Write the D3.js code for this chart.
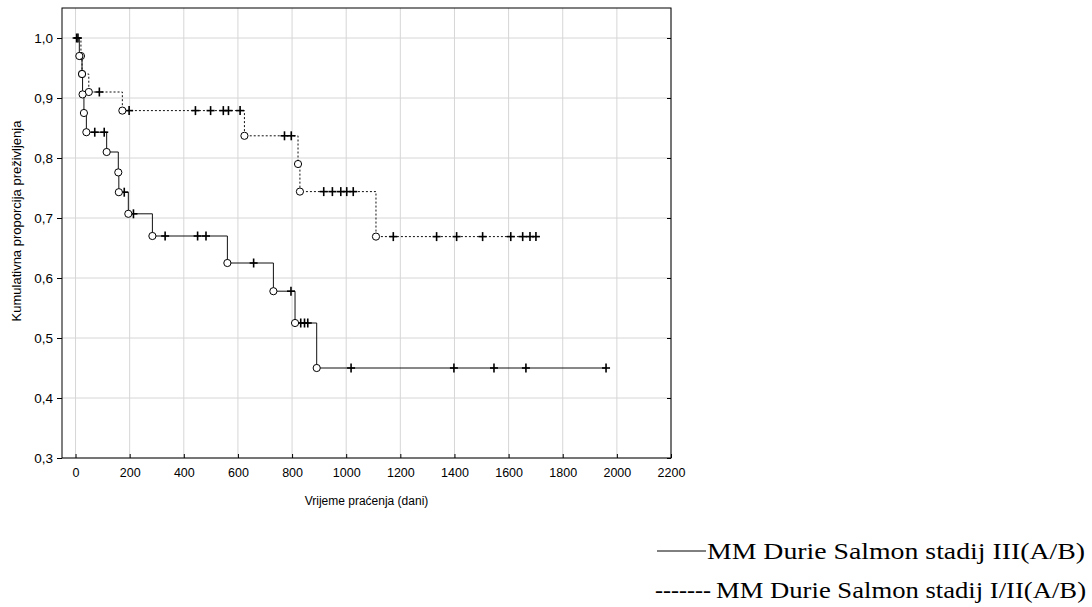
<!DOCTYPE html>
<html>
<head>
<meta charset="utf-8">
<script src="https://cdn.jsdelivr.net/npm/d3@7"></script>
<style>
  body { margin: 0; background: #fff; }
  text { font-family: "Liberation Sans", Arial, sans-serif; }
</style>
</head>
<body>
<div id="chart"></div>
<script>
// Stadij III(A/B) - solid line
const solidTimes = [14, 24, 26, 31, 40, 115, 158, 160, 195, 284, 561, 731, 811, 891];
const solidSurv  = [0.970, 0.940, 0.906, 0.875, 0.843, 0.810, 0.776, 0.743, 0.707, 0.670, 0.625, 0.578, 0.525, 0.450];
const solidCens  = [4, 71, 106, 180, 214, 331, 451, 482, 658, 796, 832, 846, 858, 1018, 1398, 1546, 1664, 1960];

// Stadij I/II(A/B) - dotted line
const dotTimes = [20, 24, 49, 173, 624, 822, 829, 1110];
const dotSurv  = [0.970, 0.940, 0.910, 0.879, 0.837, 0.790, 0.744, 0.669];
const dotCens  = [9, 88, 198, 443, 499, 546, 565, 608, 772, 797, 917, 949, 980, 1002, 1026, 1174, 1334, 1408, 1504, 1608, 1652, 1679, 1701];

const xTicks = [0, 200, 400, 600, 800, 1000, 1200, 1400, 1600, 1800, 2000, 2200];
const yTicks = [0.3, 0.4, 0.5, 0.6, 0.7, 0.8, 0.9, 1.0];

const legendLabels = ["MM Durie Salmon stadij III(A/B)", "MM Durie Salmon stadij I/II(A/B)"];

// plot frame
const margin = {top: 8, left: 62},
      width = 609, height = 450;

const svg = d3.select("#chart").append("svg")
  .attr("width", 1092)
  .attr("height", 607);

const g = svg.append("g")
  .attr("transform", "translate(" + margin.left + "," + margin.top + ")");

const x = d3.scaleLinear().domain([-50, 2200]).range([0, width]);
const y = d3.scaleLinear().domain([0.3, 1.05]).range([height, 0]);

// grid
g.append("g").selectAll("line")
  .data(xTicks)
  .enter().append("line")
  .attr("x1", d => x(d)).attr("x2", d => x(d))
  .attr("y1", 0).attr("y2", height)
  .attr("stroke", "#d6d6d6").attr("stroke-width", 1);

g.append("g").selectAll("line")
  .data(yTicks)
  .enter().append("line")
  .attr("x1", 0).attr("x2", width)
  .attr("y1", d => y(d)).attr("y2", d => y(d))
  .attr("stroke", "#d6d6d6").attr("stroke-width", 1);

// axes
const fmt = d => d3.format(".1f")(d).replace(".", ",");

const xAxis = g.append("g")
  .attr("transform", "translate(0," + height + ")")
  .call(d3.axisBottom(x).tickValues(xTicks).tickFormat(d3.format("d"))
    .tickSizeInner(-4).tickSizeOuter(0).tickPadding(10));

const yAxis = g.append("g")
  .call(d3.axisLeft(y).tickValues(yTicks).tickFormat(fmt).tickSizeInner(5).tickSizeOuter(0).tickPadding(4));

g.append("g")
  .attr("transform", "translate(" + width + ",0)")
  .call(d3.axisRight(y).tickValues(yTicks).tickFormat("").tickSizeInner(-4).tickSizeOuter(0));

xAxis.selectAll("text")
  .style("font-family", "'Liberation Sans', Arial, sans-serif")
  .style("font-size", "12.5px")
  .attr("fill", "#000");
yAxis.selectAll("text")
  .style("font-family", "'Liberation Sans', Arial, sans-serif")
  .style("font-size", "13.5px")
  .attr("fill", "#000");
g.selectAll(".domain").remove();
g.selectAll(".tick line").attr("stroke", "#000");

g.append("rect")
  .attr("width", width).attr("height", height)
  .attr("fill", "none").attr("stroke", "#000").attr("stroke-width", 1);

// step curves
function stepData(times, surv, cens) {
  const pts = [[0, 1]];
  times.forEach((t, i) => pts.push([t, surv[i]]));
  pts.push([d3.max(cens), surv[surv.length - 1]]);
  return pts;
}
function survAt(times, surv, t) {
  let s = 1;
  times.forEach((tt, i) => { if (tt <= t) s = surv[i]; });
  return s;
}

const line = d3.line()
  .x(d => x(d[0]))
  .y(d => y(d[1]))
  .curve(d3.curveStepAfter);

function drawSeries(times, surv, cens, dash) {
  g.append("path")
    .datum(stepData(times, surv, cens))
    .attr("fill", "none")
    .attr("stroke", "#111")
    .attr("stroke-width", 1)
    .attr("stroke-dasharray", dash)
    .attr("d", line);

  // censored
  const plus = g.append("g").selectAll("g")
    .data(cens)
    .enter().append("g")
    .attr("transform", d => "translate(" + x(d) + "," + y(survAt(times, surv, d)) + ")");
  plus.append("line").attr("x1", -4).attr("x2", 4).attr("y1", 0).attr("y2", 0)
    .attr("stroke", "#000").attr("stroke-width", 1.6);
  plus.append("line").attr("x1", 0).attr("x2", 0).attr("y1", -4.5).attr("y2", 4.5)
    .attr("stroke", "#000").attr("stroke-width", 1.6);

  // events
  g.append("g").selectAll("circle")
    .data(times)
    .enter().append("circle")
    .attr("cx", d => x(d))
    .attr("cy", (d, i) => y(surv[i]))
    .attr("r", 3.6)
    .attr("fill", "#fff")
    .attr("stroke", "#000")
    .attr("stroke-width", 1);
}

drawSeries(dotTimes, dotSurv, dotCens, "2,2");
drawSeries(solidTimes, solidSurv, solidCens, null);

// axis titles
svg.append("text")
  .attr("x", margin.left + width / 2)
  .attr("y", 505)
  .attr("text-anchor", "middle")
  .style("font-size", "12px")
  .text("Vrijeme praćenja (dani)");

svg.append("text")
  .attr("transform", "translate(21," + (margin.top + height / 2 - 12) + ") rotate(-90)")
  .attr("text-anchor", "middle")
  .style("font-size", "13px")
  .text("Kumulativna proporcija preživljenja");

// legend
const serif = "'Liberation Serif', 'Times New Roman', serif";

svg.append("line")
  .attr("x1", 657).attr("x2", 706)
  .attr("y1", 551).attr("y2", 551)
  .attr("stroke", "#000").attr("stroke-width", 1);

svg.append("text")
  .attr("x", 707).attr("y", 559)
  .style("font-family", serif)
  .style("font-size", "23px")
  .attr("textLength", 378)
  .attr("lengthAdjust", "spacingAndGlyphs")
  .text(legendLabels[0]);

svg.append("text")
  .attr("x", 655).attr("y", 598)
  .style("font-family", serif)
  .style("font-size", "23px")
  .attr("textLength", 56)
  .attr("lengthAdjust", "spacingAndGlyphs")
  .text("-------");

svg.append("text")
  .attr("x", 716).attr("y", 598)
  .style("font-family", serif)
  .style("font-size", "23px")
  .attr("textLength", 370)
  .attr("lengthAdjust", "spacingAndGlyphs")
  .text(legendLabels[1]);
</script>
</body>
</html>
